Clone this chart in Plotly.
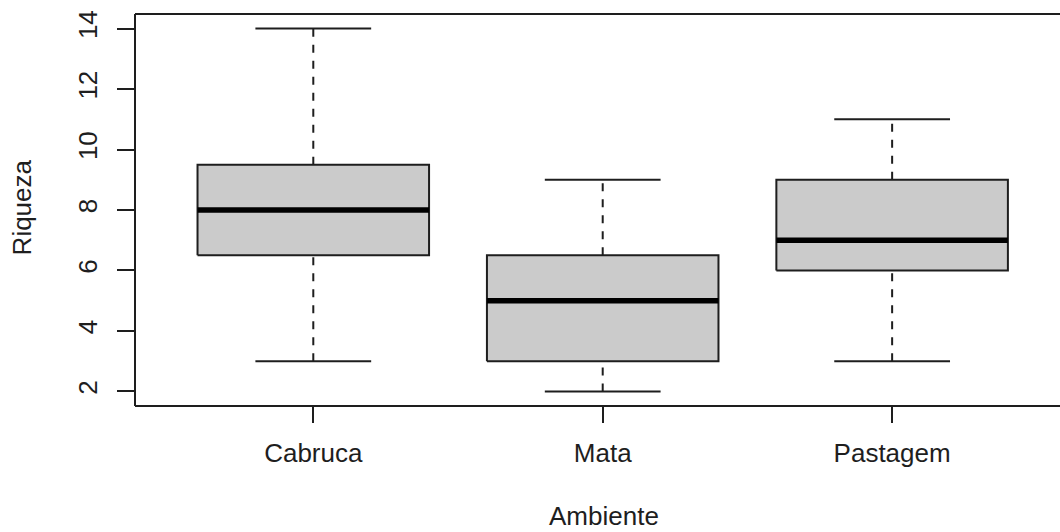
import plotly.graph_objects as go

categories = ["Cabruca", "Mata", "Pastagem"]
lower_whisker = [3, 2, 3]
q1 = [6.5, 3, 6]
median = [8, 5, 7]
q3 = [9.5, 6.5, 9]
upper_whisker = [14, 9, 11]
y_ticks = [2, 4, 6, 8, 10, 12, 14]

BOX_HALF = 0.4
CAP_HALF = 0.2
LINE = "#1e1e1e"
FILL = "#CBCBCB"
FONT = "Liberation Sans, Arial, Helvetica, sans-serif"
FS = 26

fig = go.Figure()
positions = list(range(1, len(categories) + 1))

for i, p in enumerate(positions):
    # dashed whiskers
    fig.add_trace(go.Scatter(
        x=[p, p, None, p, p],
        y=[lower_whisker[i], q1[i], None, q3[i], upper_whisker[i]],
        mode="lines", line=dict(color=LINE, width=2, dash="8px,8px"),
        hoverinfo="skip", showlegend=False))
    # caps
    fig.add_trace(go.Scatter(
        x=[p - CAP_HALF, p + CAP_HALF, None, p - CAP_HALF, p + CAP_HALF],
        y=[lower_whisker[i], lower_whisker[i], None, upper_whisker[i], upper_whisker[i]],
        mode="lines", line=dict(color=LINE, width=2),
        hoverinfo="skip", showlegend=False))
    # box
    fig.add_trace(go.Scatter(
        x=[p - BOX_HALF, p + BOX_HALF, p + BOX_HALF, p - BOX_HALF, p - BOX_HALF],
        y=[q1[i], q1[i], q3[i], q3[i], q1[i]],
        mode="lines", fill="toself", fillcolor=FILL,
        line=dict(color=LINE, width=2),
        hoverinfo="skip", showlegend=False))
    # median
    fig.add_trace(go.Scatter(
        x=[p - BOX_HALF, p + BOX_HALF],
        y=[median[i], median[i]],
        mode="lines", line=dict(color="#000000", width=5.5),
        hoverinfo="skip", showlegend=False))

L, T, B = 135, 13.5, 126.3
W = 1060 - L
H = 532 - T - B

fig.update_layout(
    width=1060, height=532,
    margin=dict(l=L, r=0, t=T, b=B, pad=0),
    paper_bgcolor="white", plot_bgcolor="white",
    font=dict(family=FONT, size=FS, color="#1e1e1e"),
    xaxis=dict(
        range=[0.384, 3.58], tickmode="array", tickvals=positions, ticktext=categories,
        showgrid=False, zeroline=False, showline=False,
        ticks="outside", ticklen=16, tickwidth=2, tickcolor=LINE,
        ticklabelstandoff=8,
    ),
    yaxis=dict(
        range=[1.52, 14.48], tickmode="array", tickvals=y_ticks,
        ticktext=[str(v) for v in y_ticks], tickangle=-90,
        showgrid=False, zeroline=False, showline=False,
        ticks="outside", ticklen=17, tickwidth=2, tickcolor=LINE,
        ticklabelstandoff=10,
    ),
    shapes=[
        dict(type="line", xref="paper", yref="paper", x0=0, x1=0, y0=0, y1=1,
             line=dict(color=LINE, width=2)),
        dict(type="line", xref="paper", yref="paper", x0=0, x1=1, y0=1, y1=1,
             line=dict(color=LINE, width=2)),
        dict(type="line", xref="paper", yref="paper", x0=0, x1=1, y0=0, y1=0,
             line=dict(color=LINE, width=2)),
    ],
    annotations=[
        dict(text="Ambiente", xref="paper", yref="paper",
             x=(603.6 - L) / W, y=(532 - B - 516) / H,
             xanchor="center", yanchor="middle", showarrow=False,
             font=dict(size=FS)),
        dict(text="Riqueza", xref="paper", yref="paper",
             x=(22 - L) / W, y=(532 - B - 207) / H, textangle=-90,
             xanchor="center", yanchor="middle", showarrow=False,
             font=dict(size=FS)),
    ],
)

fig.write_html("out.html", config={"displayModeBar": False},
               post_script="document.body.style.margin='0';document.body.style.overflow='hidden';")
